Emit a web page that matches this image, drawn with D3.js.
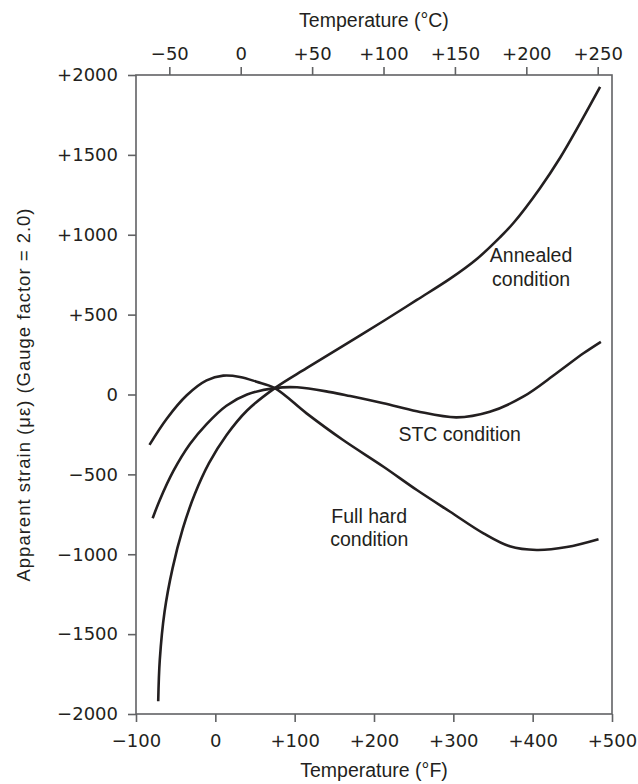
<!DOCTYPE html>
<html>
<head>
<meta charset="utf-8">
<script src="https://cdn.jsdelivr.net/npm/d3@7"></script>
<style>
body { margin: 0; background: #fff; }
svg { display: block; }
</style>
</head>
<body>
<svg></svg>
<script>
// apparent strain vs temperature, three alloy conditions
var annealedF = [-72, -70, -64, -54, -41, -26, -8, 14, 40, 75, 115, 161, 212, 254, 296, 330, 359, 376, 409, 435, 460, 485]
var annealedStrain = [-1920, -1660, -1360, -1090, -840, -625, -430, -255, -100, 40, 165, 305, 460, 592, 725, 850, 985, 1075, 1290, 1485, 1700, 1925]

var stcF = [-79, -70, -53, -32, -11, 14, 40, 75, 103, 145, 170, 212, 254, 304, 346, 388, 430, 464, 486]
var stcStrain = [-775, -660, -480, -310, -185, -70, 0, 40, 45, 15, -10, -55, -105, -143, -108, -14, 133, 258, 330]

var fullHardF = [-83, -61, -36, -11, 10, 31, 52, 75, 115, 161, 212, 254, 296, 338, 371, 405, 443, 483]
var fullHardStrain = [-315, -150, -5, 88, 118, 110, 80, 40, -118, -285, -452, -598, -734, -869, -950, -973, -955, -906]

var fTicks = [-100, 0, 100, 200, 300, 400, 500]
var cTicks = [-50, 0, 50, 100, 150, 200, 250]
var strainTicks = [-2000, -1500, -1000, -500, 0, 500, 1000, 1500, 2000]

var seriesNames = ["Annealed condition", "STC condition", "Full hard condition"]

var screen = {width: 638, height: 784}
var plot = {left: 136, right: 612, top: 75, bottom: 714}
var ink = "#231f20"
var axisInk = "#616264"

var svg = d3.select("svg")
    .attr("width", screen.width)
    .attr("height", screen.height)

var xScale = d3.scaleLinear()
    .domain([-100, 500])
    .range([plot.left, plot.right])

var cScale = d3.scaleLinear()
    .domain([(-100 - 32) * 5 / 9, (500 - 32) * 5 / 9])
    .range([plot.left, plot.right])

var yScale = d3.scaleLinear()
    .domain([-2000, 2000])
    .range([plot.bottom, plot.top])

var signed = function(d)
{
    if (d > 0) return "+" + d
    if (d < 0) return "\u2212" + Math.abs(d)
    return "0"
}

var styleAxis = function(g)
{
    g.select(".domain").remove()
    g.selectAll(".tick line").attr("stroke", axisInk).attr("stroke-width", 1.6)
    g.selectAll(".tick text")
        .attr("fill", ink)
        .style("font-family", "'DejaVu Sans', sans-serif")
        .style("font-size", "18px")
}

// frame
svg.append("rect")
    .attr("x", plot.left)
    .attr("y", plot.top)
    .attr("width", plot.right - plot.left)
    .attr("height", plot.bottom - plot.top)
    .attr("fill", "none")
    .attr("stroke", axisInk)
    .attr("stroke-width", 1.6)

svg.append("g")
    .attr("transform", "translate(0," + plot.bottom + ")")
    .call(d3.axisBottom(xScale).tickValues(fTicks).tickFormat(signed).tickSize(8).tickPadding(12))
    .call(styleAxis)

svg.append("g")
    .attr("transform", "translate(0," + plot.top + ")")
    .call(d3.axisTop(cScale).tickValues(cTicks).tickFormat(signed).tickSize(8).tickPadding(7))
    .call(styleAxis)

svg.append("g")
    .attr("transform", "translate(" + plot.left + ",0)")
    .call(d3.axisLeft(yScale).tickValues(strainTicks).tickFormat(signed).tickSize(8).tickPadding(10))
    .call(styleAxis)

var titleFont = "'Liberation Sans', Arial, sans-serif"

svg.append("text")
    .attr("x", (plot.left + plot.right) / 2)
    .attr("y", 27)
    .attr("text-anchor", "middle")
    .attr("fill", ink)
    .style("font-family", titleFont)
    .style("font-size", "19.5px")
    .text("Temperature (\u00B0C)")

svg.append("text")
    .attr("x", (plot.left + plot.right) / 2)
    .attr("y", 777)
    .attr("text-anchor", "middle")
    .attr("fill", ink)
    .style("font-family", titleFont)
    .style("font-size", "19.5px")
    .text("Temperature (\u00B0F)")

svg.append("text")
    .attr("transform", "translate(30," + (plot.top + plot.bottom) / 2 + ") rotate(-90)")
    .attr("text-anchor", "middle")
    .attr("fill", ink)
    .style("font-family", titleFont)
    .style("font-size", "18.5px")
    .style("letter-spacing", "1px")
    .text("Apparent strain (\u03BC\u03B5) (Gauge factor = 2.0)")

// curves
var series = [
    {name: seriesNames[0], f: annealedF, s: annealedStrain},
    {name: seriesNames[1], f: stcF, s: stcStrain},
    {name: seriesNames[2], f: fullHardF, s: fullHardStrain}
]

var line = d3.line()
    .x(function(p) { return xScale(p[0]) })
    .y(function(p) { return yScale(p[1]) })
    .curve(d3.curveCatmullRom.alpha(0.5))

svg.selectAll("path.curve")
    .data(series)
    .enter()
    .append("path")
    .attr("class", "curve")
    .attr("d", function(d)
    {
        return line(d.f.map(function(f, i) { return [f, d.s[i]] }))
    })
    .attr("fill", "none")
    .attr("stroke", ink)
    .attr("stroke-width", 2.6)
    .attr("stroke-linecap", "butt")

// curve labels, anchored in data units
var labels = [
    {lines: ["Annealed", "condition"], f: 398, s: 829},
    {lines: ["STC condition"], f: 308, s: -289},
    {lines: ["Full hard", "condition"], f: 194, s: -804}
]

labels.forEach(function(l)
{
    var t = svg.append("text")
        .attr("text-anchor", "middle")
        .attr("fill", ink)
        .style("font-family", titleFont)
        .style("font-size", "19.5px")
    l.lines.forEach(function(str, i)
    {
        t.append("tspan")
            .attr("x", xScale(l.f))
            .attr("y", yScale(l.s) + i * 23.5)
            .text(str)
    })
})
</script>
</body>
</html>
